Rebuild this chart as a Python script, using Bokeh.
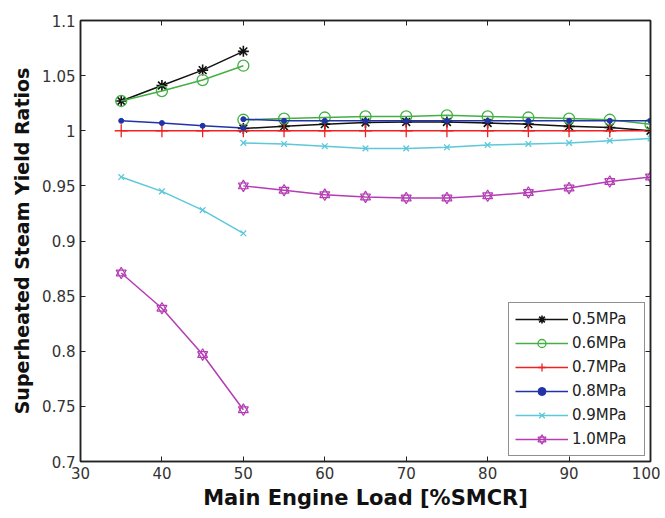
from bokeh.plotting import figure
from bokeh.models import Legend, LegendItem, LinearAxis, FixedTicker, Range1d, CustomLabelingPolicy
from bokeh.embed import file_html
from bokeh.resources import INLINE

# ---- data ----
load_a = [35, 40, 45, 50]
load_b = [50, 55, 60, 65, 70, 75, 80, 85, 90, 95, 100]
load_all = [35, 40, 45, 50, 55, 60, 65, 70, 75, 80, 85, 90, 95, 100]

p05_a = [1.027, 1.041, 1.055, 1.072]
p05_b = [1.002, 1.004, 1.006, 1.0075, 1.008, 1.008, 1.007, 1.006, 1.004, 1.003, 1.000]
p06_a = [1.027, 1.036, 1.046, 1.059]
p06_b = [1.010, 1.011, 1.012, 1.013, 1.013, 1.014, 1.013, 1.012, 1.011, 1.010, 1.006]
p07_all = [1.0, 1.0, 1.0, 1.0, 1.0, 1.0, 1.0, 1.0, 1.0, 1.0, 1.0, 1.0, 1.0, 1.0]
p08_a = [1.009, 1.007, 1.0045, 1.0025]
p08_b = [1.0105, 1.009, 1.009, 1.009, 1.009, 1.009, 1.009, 1.009, 1.009, 1.009, 1.009]
p09_a = [0.958, 0.945, 0.928, 0.907]
p09_b = [0.989, 0.988, 0.986, 0.984, 0.984, 0.985, 0.987, 0.988, 0.989, 0.991, 0.993]
p10_a = [0.871, 0.839, 0.797, 0.747]
p10_b = [0.950, 0.946, 0.942, 0.940, 0.939, 0.939, 0.941, 0.944, 0.948, 0.954, 0.958]

labels = ["0.5MPa", "0.6MPa", "0.7MPa", "0.8MPa", "0.9MPa", "1.0MPa"]
x_ticks = [30, 40, 50, 60, 70, 80, 90, 100]
y_ticks = [0.7, 0.75, 0.8, 0.85, 0.9, 0.95, 1.0, 1.05, 1.1]
y_tick_labels = ["0.7", "0.75", "0.8", "0.85", "0.9", "0.95", "1", "1.05", "1.1"]

FONT = "DejaVu Sans"

p = figure(width=660, height=512, output_backend="svg", toolbar_location=None,
           x_range=Range1d(30, 100), y_range=Range1d(0.7, 1.1),
           min_border_left=80, min_border_right=10, min_border_top=20,
           min_border_bottom=48)
p.xgrid.visible = False
p.ygrid.visible = False
p.outline_line_color = "#222222"
p.outline_line_width = 1.5
p.background_fill_color = "white"

for ax in p.xaxis + p.yaxis:
    ax.major_tick_in = 5
    ax.major_tick_out = 0
    ax.minor_tick_in = 0
    ax.minor_tick_out = 0
    ax.axis_line_color = "#222222"
    ax.axis_line_width = 1.5
    ax.major_tick_line_color = "#222222"
    ax.major_label_text_font = FONT
    ax.major_label_text_font_size = "15px"
    ax.major_label_text_color = "#333333"
    ax.axis_label_text_font = FONT
    ax.axis_label_text_font_style = "bold"
    ax.axis_label_text_color = "#111111"

p.xaxis.ticker = FixedTicker(ticks=x_ticks)
p.yaxis.ticker = FixedTicker(ticks=y_ticks)
p.yaxis.major_label_overrides = {t: l for t, l in zip(y_ticks, y_tick_labels)}
p.xaxis.axis_label = "Main Engine Load [%SMCR]"
p.yaxis.axis_label = "Superheated Steam Yield Ratios"
p.xaxis.axis_label_text_font_size = "21px"
p.yaxis.axis_label_text_font_size = "19px"
p.xaxis.major_label_standoff = 5
p.yaxis.major_label_standoff = 5
p.xaxis.axis_label_standoff = 4
p.yaxis.axis_label_standoff = 6

# box ticks on top / right (no labels)
hide = CustomLabelingPolicy(code="for (const i of indices) indices.unset(i)")
top = LinearAxis(ticker=FixedTicker(ticks=x_ticks))
right = LinearAxis(ticker=FixedTicker(ticks=y_ticks))
for ax in (top, right):
    ax.major_tick_in = 5
    ax.major_tick_out = 0
    ax.minor_tick_in = 0
    ax.minor_tick_out = 0
    ax.axis_line_color = "#222222"
    ax.axis_line_width = 1.5
    ax.major_tick_line_color = "#222222"
    ax.major_label_policy = hide
    ax.major_label_text_font_size = "1px"
    ax.major_label_standoff = 0
p.add_layout(top, "above")
p.add_layout(right, "right")

black = "#111111"
green = "#44b044"
red = "#ee2222"
blue = "#2233a8"
cyan = "#5cc8da"
magenta = "#b43cb4"
LW = 1.5

items = []

# 0.5 MPa
r = []
for xs, ys in ((load_a, p05_a), (load_b, p05_b)):
    l = p.line(xs, ys, line_color=black, line_width=LW)
    s = p.scatter(xs, ys, marker="asterisk", size=11, line_color=black, line_width=1.6)
    if not r:
        r = [l, s]
items.append(LegendItem(label=labels[0], renderers=r))

# 0.6 MPa
r = []
for xs, ys in ((load_a, p06_a), (load_b, p06_b)):
    l = p.line(xs, ys, line_color=green, line_width=LW)
    s = p.scatter(xs, ys, marker="circle", size=11, line_color=green, fill_color=None, line_width=1.3)
    if not r:
        r = [l, s]
items.append(LegendItem(label=labels[1], renderers=r))

# 0.7 MPa
l = p.line(load_all, p07_all, line_color=red, line_width=LW)
s = p.scatter(load_all, p07_all, marker="cross", size=13, line_color=red, line_width=1.3)
items.append(LegendItem(label=labels[2], renderers=[l, s]))

# 0.8 MPa
r = []
for xs, ys in ((load_a, p08_a), (load_b, p08_b)):
    l = p.line(xs, ys, line_color=blue, line_width=LW)
    s = p.scatter(xs, ys, marker="circle", size=5, line_color=blue, fill_color=blue)
    if not r:
        r = [l, s]
items.append(LegendItem(label=labels[3], renderers=r))

# 0.9 MPa
r = []
for xs, ys in ((load_a, p09_a), (load_b, p09_b)):
    l = p.line(xs, ys, line_color=cyan, line_width=LW)
    s = p.scatter(xs, ys, marker="x", size=8, line_color=cyan, line_width=1.3)
    if not r:
        r = [l, s]
items.append(LegendItem(label=labels[4], renderers=r))

# 1.0 MPa (hexagram built from two triangles)
r = []
for xs, ys in ((load_a, p10_a), (load_b, p10_b)):
    l = p.line(xs, ys, line_color=magenta, line_width=LW)
    s1 = p.scatter(xs, ys, marker="triangle", size=10, line_color=magenta, fill_color=None, line_width=1.2)
    s2 = p.scatter(xs, ys, marker="inverted_triangle", size=10, line_color=magenta, fill_color=None, line_width=1.2)
    if not r:
        r = [l, s1, s2]
items.append(LegendItem(label=labels[5], renderers=r))

legend = Legend(items=items, location="bottom_right")
legend.label_text_font = FONT
legend.label_text_font_size = "15px"
legend.label_text_color = "#222222"
legend.glyph_width = 53
legend.glyph_height = 20
legend.label_height = 20
legend.label_width = 66
legend.label_standoff = 4
legend.spacing = 4
legend.padding = 6
legend.margin = 5
legend.border_line_color = "#222222"
legend.border_line_width = 1.3
legend.background_fill_alpha = 1
p.add_layout(legend)

open("out.html", "w").write(file_html(p, INLINE))
